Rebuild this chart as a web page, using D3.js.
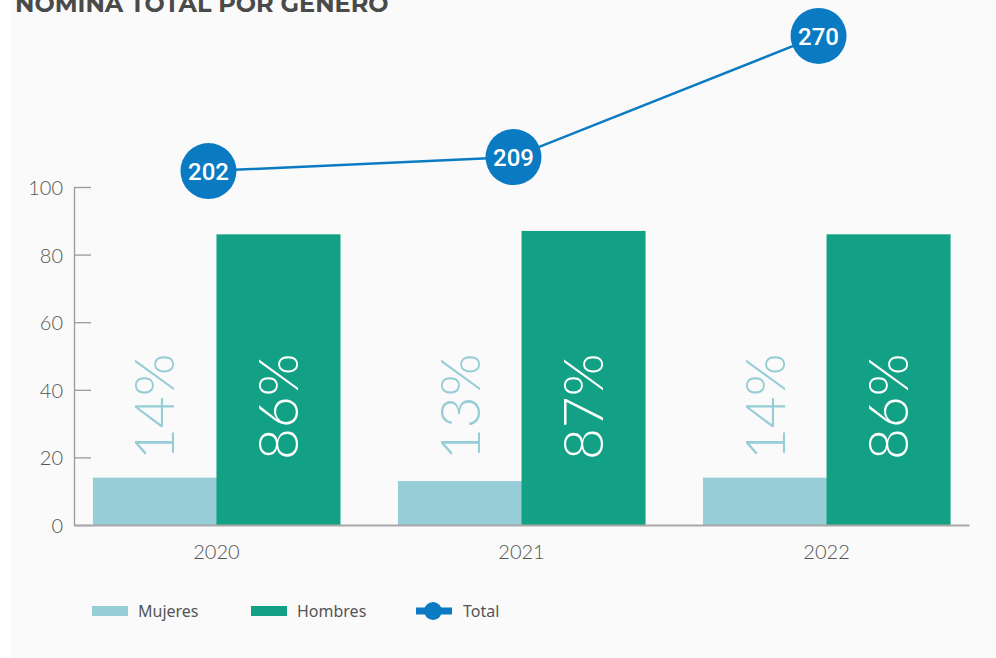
<!DOCTYPE html>
<html>
<head>
<meta charset="utf-8">
<script src="https://cdn.jsdelivr.net/npm/d3@7"></script>
<style>
  html, body { margin: 0; padding: 0; background: #ffffff; }
  svg { display: block; }
</style>
</head>
<body>
<svg id="chart" width="996" height="658"></svg>
<script>
// Headcount by gender, 2020-2022
const years = ["2020", "2021", "2022"];
const mujeres = [14, 13, 14];
const hombres = [86, 87, 86];
const total = [202, 209, 270];
const yTicks = [0, 20, 40, 60, 80, 100];
const seriesNames = ["Mujeres", "Hombres"];
const legendLabels = ["Mujeres", "Hombres", "Total"];

const colors = { Mujeres: "#97cdd7", Hombres: "#13a186", Total: "#0a7bc2" };
const lightFont = "Lato, 'Open Sans', sans-serif";

const svg = d3.select("#chart");

// panel background
svg.append("rect").attr("x", 11).attr("y", 0).attr("width", 985).attr("height", 658).attr("fill", "#fafafa");

// title
svg.append("text")
  .attr("x", 15).attr("y", 12)
  .attr("font-family", "Montserrat, Lato, sans-serif")
  .attr("font-weight", 700)
  .attr("font-size", 24)
  .attr("fill", "#4a4a4a")
  .text("NOMINA TOTAL POR GENERO");

const plot = { left: 74, right: 969, top: 187, bottom: 525 };

const x = d3.scaleBand().domain(years)
  .range([plot.left, plot.right])
  .paddingInner(0.19).paddingOuter(0.062);
const xs = d3.scaleBand().domain(seriesNames).range([0, x.bandwidth()]);
const y = d3.scaleLinear().domain([0, 100]).range([plot.bottom, plot.top]);
const yTotal = d3.scaleLinear().domain([200, 280]).range([175, 16]);

// y axis
const yAxis = svg.append("g")
  .attr("transform", `translate(${plot.left},0)`)
  .call(d3.axisLeft(y).tickValues(yTicks).tickSize(-17).tickSizeOuter(0).tickPadding(11));
yAxis.select(".domain").attr("stroke", "#9a9a9a").attr("stroke-width", 1.3);
yAxis.selectAll(".tick line").attr("stroke", "#9a9a9a").attr("stroke-width", 1.3);
yAxis.selectAll(".tick text")
  .attr("font-family", lightFont).attr("font-weight", 300)
  .attr("font-size", 20).attr("fill", "#555").attr("dy", "0.72em")
  .attr("y", -7);

// bars
years.forEach((yr, i) => {
  const g = svg.append("g").attr("transform", `translate(${x(yr)},0)`);
  const vals = { Mujeres: mujeres[i], Hombres: hombres[i] };
  seriesNames.forEach(s => {
    g.append("rect")
      .attr("x", xs(s)).attr("width", xs.bandwidth() + 0.5)
      .attr("y", y(vals[s])).attr("height", y(0) - y(vals[s]))
      .attr("fill", colors[s]);
    // rotated percentage label
    const cx = xs(s) + xs.bandwidth() / 2;
    g.append("text")
      .attr("transform", `translate(${cx},${y(35)}) rotate(-90)`)
      .attr("text-anchor", "middle")
      .attr("dy", "0.36em")
      .attr("font-family", lightFont).attr("font-weight", 300)
      .attr("font-size", 55)
      .attr("fill", s === "Mujeres" ? colors.Mujeres : "#ffffff")
      .text(vals[s] + "%");
  });
});

// x axis
const xAxis = svg.append("g")
  .attr("transform", `translate(0,${plot.bottom})`)
  .call(d3.axisBottom(x).tickSize(0).tickSizeOuter(0).tickPadding(20));
xAxis.select(".domain").attr("stroke", "#a8a8a8").attr("stroke-width", 2);
xAxis.selectAll(".tick text")
  .attr("font-family", lightFont).attr("font-weight", 300)
  .attr("font-size", 20).attr("fill", "#555");

// total line with labelled markers
const lx = d => x(d) + x.bandwidth() / 2 - 8;
const line = d3.line().x((d, i) => lx(years[i])).y(d => yTotal(d));
svg.append("path").datum(total)
  .attr("d", line).attr("fill", "none")
  .attr("stroke", colors.Total).attr("stroke-width", 2.5);
const pts = svg.append("g").selectAll("g").data(total).join("g")
  .attr("transform", (d, i) => `translate(${lx(years[i])},${yTotal(d)})`);
pts.append("circle").attr("r", 28).attr("fill", colors.Total);
pts.append("text")
  .attr("text-anchor", "middle").attr("dy", "0.36em")
  .attr("font-family", "Roboto, Lato, sans-serif").attr("font-weight", 500)
  .attr("font-size", 24).attr("fill", "#ffffff")
  .text(d => d);

// legend
const legendX = [92, 251, 416];
const legend = svg.append("g").selectAll("g").data(legendLabels).join("g")
  .attr("transform", (d, i) => `translate(${legendX[i]},611)`);
legend.each(function(d) {
  const g = d3.select(this);
  if (d === "Total") {
    g.append("rect").attr("x", 0).attr("y", -3.5).attr("width", 36).attr("height", 7).attr("fill", colors.Total);
    g.append("circle").attr("cx", 17).attr("cy", 0).attr("r", 9).attr("fill", colors.Total);
  } else {
    g.append("rect").attr("x", 0).attr("y", -5).attr("width", 36).attr("height", 10).attr("fill", colors[d]);
  }
  g.append("text")
    .attr("x", d === "Total" ? 47 : 46).attr("dy", "0.35em")
    .attr("font-family", "'Noto Sans', sans-serif").attr("font-weight", 400)
    .attr("font-size", 16).attr("fill", "#555")
    .text(d);
});
</script>
</body>
</html>
